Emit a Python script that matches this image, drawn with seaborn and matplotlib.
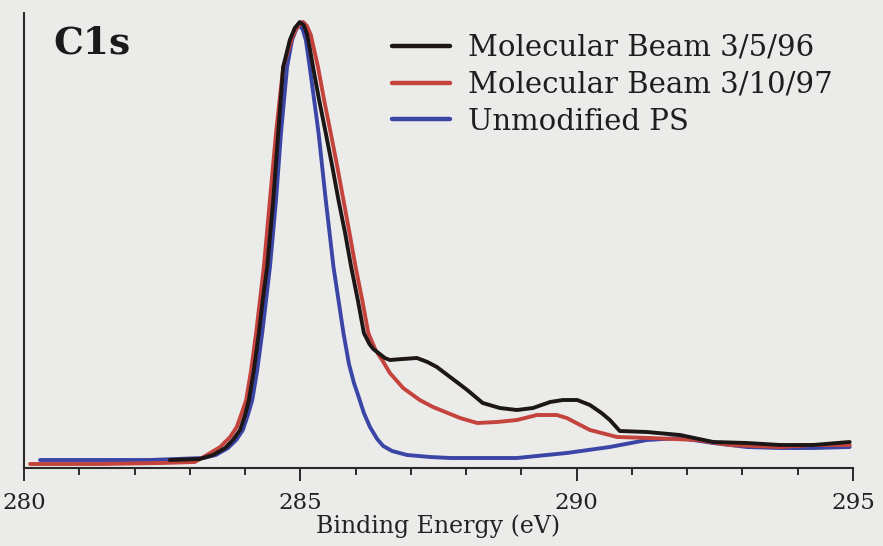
import matplotlib
matplotlib.use("Agg")
import matplotlib.pyplot as plt
import seaborn as sns
import pandas as pd
from matplotlib.ticker import MultipleLocator

# ---- data (intensity in arbitrary units) ----
black_x = [282.64, 283.18, 283.42, 283.64, 283.78, 283.91, 284.00, 284.07, 284.16, 284.25,
           284.32, 284.40, 284.51, 284.60, 284.69, 284.81, 284.90, 284.99, 285.06, 285.12,
           285.17, 285.23, 285.34, 285.46, 285.58, 285.69, 285.81, 285.92, 286.04, 286.15,
           286.25, 286.32, 286.39, 286.53, 286.62, 286.85, 287.11, 287.30, 287.47, 287.71,
           288.02, 288.30, 288.61, 288.92, 289.21, 289.52, 289.75, 290.01, 290.24, 290.45,
           290.60, 290.78, 291.27, 291.87, 292.47, 293.08, 293.68, 294.28, 294.94]
black_y = [8, 9, 13, 20, 28, 38, 53, 68, 98, 135,
           168, 201, 268, 335, 401, 428, 440, 446, 443, 434,
           420, 401, 368, 335, 301, 268, 235, 201, 168, 135,
           124, 119, 116, 110, 108, 109, 110, 106, 101, 91,
           78, 65, 60, 58, 60, 66, 68, 68, 63, 55,
           48, 37, 36, 33, 26, 25, 23, 23, 26]

red_x = [280.11, 281.38, 282.50, 283.09, 283.31, 283.55, 283.73, 283.85, 283.94, 284.02,
         284.11, 284.20, 284.27, 284.34, 284.45, 284.56, 284.69, 284.85, 284.94, 285.05,
         285.12, 285.19, 285.25, 285.32, 285.43, 285.55, 285.67, 285.78, 285.89, 286.00,
         286.12, 286.23, 286.36, 286.48, 286.62, 286.86, 287.16, 287.40, 287.89, 288.20,
         288.56, 288.92, 289.28, 289.64, 289.82, 290.24, 290.73, 291.33, 292.18, 292.77,
         293.68, 294.28, 294.94]
red_y = [4, 4, 5, 6, 13, 21, 31, 41, 55, 68,
         98, 135, 168, 201, 268, 335, 401, 430, 441, 446,
         442, 433, 418, 401, 368, 335, 301, 268, 235, 201,
         168, 135, 118, 108, 95, 80, 68, 61, 50, 45,
         46, 48, 53, 53, 50, 38, 31, 30, 28, 23,
         21, 23, 23]

blue_x = [280.29, 282.28, 283.24, 283.47, 283.69, 283.84, 283.96, 284.05, 284.13, 284.22,
          284.31, 284.38, 284.45, 284.56, 284.65, 284.76, 284.85, 284.92, 284.97, 285.04,
          285.10, 285.17, 285.25, 285.33, 285.46, 285.60, 285.78, 285.88, 285.97, 286.05,
          286.15, 286.26, 286.39, 286.50, 286.66, 286.93, 287.35, 287.71, 288.92, 289.82,
          290.60, 291.27, 291.87, 292.47, 293.08, 293.68, 294.28, 294.94]
blue_y = [8, 8, 10, 13, 20, 28, 38, 53, 68, 98,
          135, 168, 201, 268, 335, 401, 428, 438, 443, 439,
          428, 401, 368, 335, 268, 201, 135, 104, 85, 72,
          55, 41, 29, 22, 17, 13, 11, 10, 10, 15,
          21, 28, 30, 25, 21, 20, 20, 21]

labels = ["Molecular Beam 3/5/96", "Molecular Beam 3/10/97", "Unmodified PS"]
colors = ["#1c1616", "#c4433d", "#3b45a6"]
x_ticks = [280, 285, 290, 295]

# ---- figure ----
sns.set_theme(style="white")
plt.rcParams["font.family"] = ["DejaVu Serif"]
bg = "#ebebea"
fig = plt.figure(figsize=(8.83, 5.46), dpi=100, facecolor=bg)
ax = fig.add_axes([24 / 883, 78 / 546, 829 / 883, 455 / 546])
ax.set_facecolor(bg)

series = [(blue_x, blue_y, labels[2], colors[2]),
          (red_x, red_y, labels[1], colors[1]),
          (black_x, black_y, labels[0], colors[0])]
for xs, ys, lab, col in series:
    df = pd.DataFrame({"x": xs, "y": ys})
    sns.lineplot(data=df, x="x", y="y", color=col, linewidth=2.8, label=lab,
                 ax=ax, sort=False, estimator=None)

ax.set_xlim(280, 295)
ax.set_ylim(0, 455)
ax.set_xticks(x_ticks)
ax.set_xticklabels([str(t) for t in x_ticks])
ax.xaxis.set_minor_locator(MultipleLocator(1))
ax.set_yticks([])
ax.set_ylabel("")
ax.set_xlabel("Binding Energy (eV)", fontsize=17, labelpad=0, color="#222222")

for s in ["top", "right"]:
    ax.spines[s].set_visible(False)
for s in ["left", "bottom"]:
    ax.spines[s].set_color("#2a2a2a")
    ax.spines[s].set_linewidth(1.5)

ax.tick_params(axis="x", which="major", direction="out", length=9.5, width=1.4,
               color="#2a2a2a", labelsize=16.5, pad=8, labelcolor="#222222", bottom=True)
ax.tick_params(axis="x", which="minor", direction="out", length=5, width=1.4,
               color="#2a2a2a", bottom=True)

ax.text((53 - 24) / 829, (468 - 54) / 455, "C1s", transform=ax.transAxes,
        fontsize=27, fontweight="bold", va="baseline", ha="left", color="#1a1a1a")

h, l = ax.get_legend_handles_labels()
order = [l.index(lab) for lab in labels]
leg = ax.legend([h[i] for i in order], [l[i] for i in order],
                loc="upper left", bbox_to_anchor=((392 - 24) / 829, (468 - 34) / 455),
                frameon=False, fontsize=21, handlelength=2.0, handletextpad=0.62,
                labelspacing=0.3, borderpad=0, borderaxespad=0)
for line in leg.get_lines():
    line.set_linewidth(3.2)
for t in leg.get_texts():
    t.set_color("#1e1e1e")

fig.savefig("out.png", dpi=100, facecolor=bg)
